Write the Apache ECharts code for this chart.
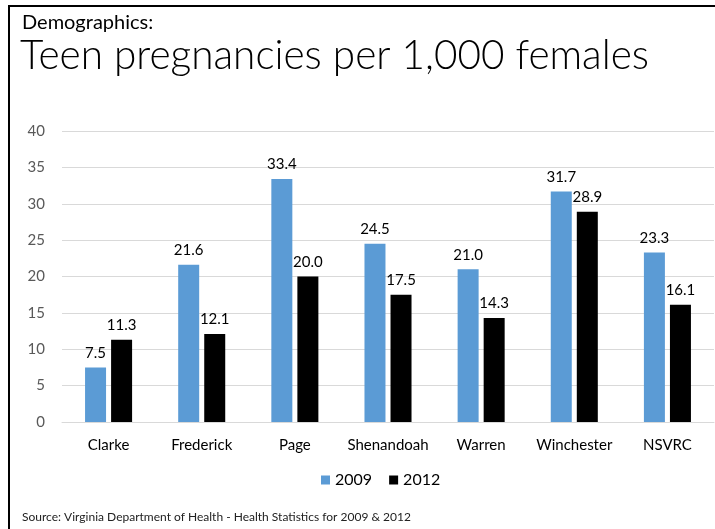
<!DOCTYPE html>
<html>
<head>
<meta charset="utf-8">
<script src="https://cdn.jsdelivr.net/npm/echarts@6/dist/echarts.min.js"></script>
<style>
html,body{margin:0;padding:0;background:#fff;}
#chart{width:715px;height:529px;}
</style>
</head>
<body>
<div id="chart"></div>
<script>
const categories = ['Clarke', 'Frederick', 'Page', 'Shenandoah', 'Warren', 'Winchester', 'NSVRC'];
const values2009 = [7.5, 21.6, 33.4, 24.5, 21.0, 31.7, 23.3];
const values2012 = [11.3, 12.1, 20.0, 17.5, 14.3, 28.9, 16.1];
const seriesNames = ['2009', '2012'];
const yTicks = [0, 5, 10, 15, 20, 25, 30, 35, 40];

const FONT = 'Lato, "Open Sans", sans-serif';
const chart = echarts.init(document.getElementById('chart'));
const labelCfg = {
  show: true, position: 'top', distance: 7,
  fontFamily: FONT, fontSize: 15, color: '#000',
  formatter: p => p.value.toFixed(1)
};
chart.setOption({
  animation: false,
  graphic: [
    { type: 'line', shape: { x1: 9, y1: 6, x2: 9, y2: 529 }, style: { stroke: '#000', lineWidth: 2 } },
    { type: 'line', shape: { x1: 8, y1: 6, x2: 715, y2: 6 }, style: { stroke: '#000', lineWidth: 2 } },
    { type: 'text', left: 22, top: 13, style: { text: 'Demographics:', font: '20px ' + FONT, fill: '#000' } },
    { type: 'text', left: 20, top: 35, style: { text: 'Teen pregnancies per 1,000 females', font: '300 40.5px ' + FONT, fill: '#000' } },
    { type: 'text', left: 22, top: 511, style: { text: 'Source: Virginia Department of Health - Health Statistics for 2009 & 2012', font: '12px ' + FONT, fill: '#222' } }
  ],
  legend: {
    data: seriesNames,
    top: 467, left: 316,
    itemWidth: 9, itemHeight: 9, itemGap: 17,
    icon: 'rect',
    textStyle: { fontFamily: FONT, fontSize: 16, color: '#000' }
  },
  grid: { left: 62, right: 1, top: 131, bottom: 107 },
  xAxis: {
    type: 'category', data: categories,
    axisLine: { lineStyle: { color: '#d9d9d9' } },
    axisTick: { show: false },
    axisLabel: { interval: 0, fontFamily: FONT, fontSize: 15, color: '#000', margin: 16 }
  },
  yAxis: {
    type: 'value', min: yTicks[0], max: yTicks[yTicks.length - 1], interval: 5,
    axisLine: { show: false }, axisTick: { show: false },
    splitLine: { lineStyle: { color: '#d9d9d9' } },
    axisLabel: { fontFamily: FONT, fontSize: 15, color: '#595959', margin: 17 }
  },
  series: [
    { name: seriesNames[0], type: 'bar', data: values2009, barWidth: 21, barGap: '24%', itemStyle: { color: '#5B9BD5' }, label: labelCfg },
    { name: seriesNames[1], type: 'bar', data: values2012, barWidth: 21, itemStyle: { color: '#000' }, label: labelCfg }
  ]
});
</script>
</body>
</html>
